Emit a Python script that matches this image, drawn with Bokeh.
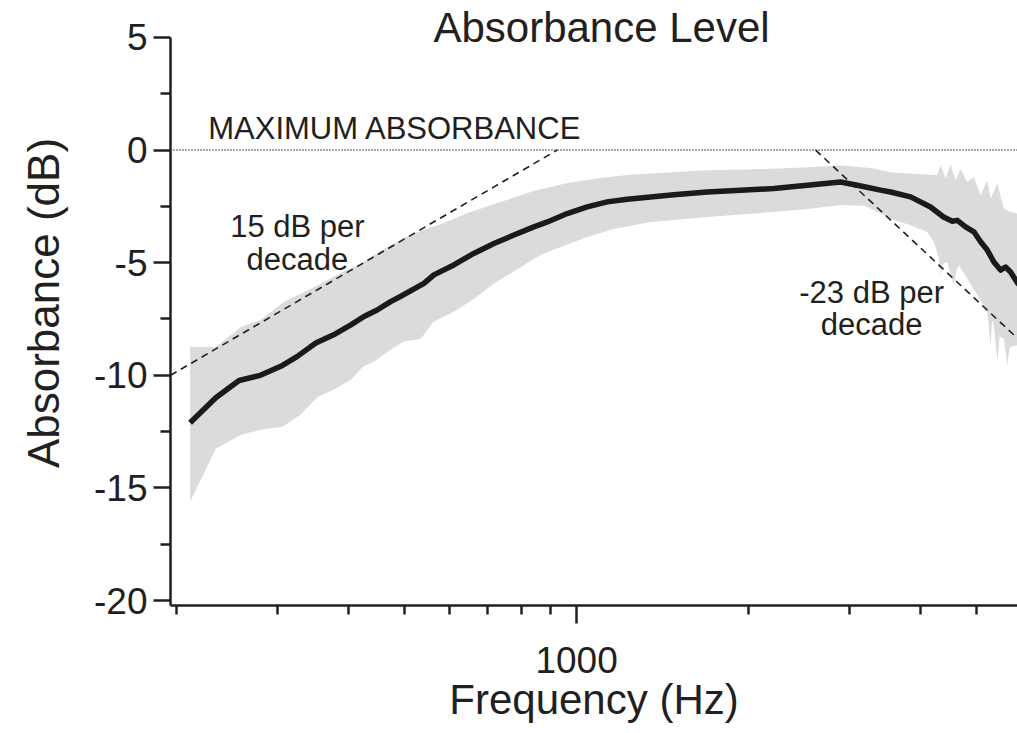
from bokeh.plotting import figure
from bokeh.models import Range1d, FixedTicker, PrintfTickFormatter, Label, Span
from bokeh.embed import file_html
from bokeh.resources import INLINE

# ---------------- data ----------------
mean_freq = [211, 234, 257, 280, 304, 325, 350, 376, 403, 425, 448, 473, 492, 541,
             563, 610, 661, 717, 777, 842, 889, 963, 1044, 1131, 1226, 1347, 1479,
             1692, 1935, 2213, 2531, 2894, 3095, 3400, 3540, 3837, 4157, 4381, 4538,
             4630, 4787, 4950, 5086, 5224, 5364, 5511, 5623, 5738, 5902, 6000]
mean_db = [-12.11, -11.0, -10.23, -10.0, -9.6, -9.16, -8.57, -8.2, -7.76, -7.39, -7.1,
           -6.73, -6.5, -5.92, -5.54, -5.1, -4.59, -4.15, -3.77, -3.41, -3.19, -2.82,
           -2.52, -2.3, -2.18, -2.08, -1.98, -1.86, -1.78, -1.71, -1.56, -1.42, -1.56,
           -1.78, -1.86, -2.08, -2.53, -2.97, -3.16, -3.12, -3.41, -3.63, -4.07, -4.44,
           -4.97, -5.33, -5.19, -5.41, -5.9, -6.1]

upper_freq = [211, 234, 259, 280, 308, 343, 382, 424, 460, 498, 534, 586, 645, 736,
              841, 964, 1101, 1228, 1347, 1694, 2210, 2596, 2894, 3266, 3540, 4272,
              4328, 4417, 4506, 4598, 4692, 4820, 4950, 5086, 5224, 5295, 5439, 5585,
              5738, 5902, 6000]
upper_db = [-8.74, -8.74, -7.85, -7.54, -6.74, -6.16, -5.54, -4.97, -4.39, -3.90, -3.59,
            -3.24, -2.79, -2.31, -1.82, -1.46, -1.24, -1.11, -1.04, -0.90, -0.83, -0.75,
            -0.68, -0.80, -0.98, -1.12, -0.65, -1.27, -0.65, -1.33, -0.85, -1.42, -1.20,
            -2.01, -1.35, -2.16, -1.50, -2.60, -2.75, -2.82, -2.85]

lower_freq = [211, 234, 259, 280, 306, 329, 353, 376, 403, 423, 442, 473, 498, 534,
              562, 610, 661, 716, 789, 865, 938, 1045, 1161, 1347, 1478, 1694, 2210,
              2534, 2894, 3201, 3540, 3837, 4104, 4215, 4300, 4328, 4364, 4447, 4566,
              4616, 4659, 4820, 5018, 5224, 5295, 5327, 5364, 5439, 5489, 5585, 5661,
              5715, 5902, 6000]
lower_db = [-15.61, -13.26, -12.64, -12.42, -12.28, -11.75, -10.95, -10.64, -10.20,
            -9.62, -9.40, -8.87, -8.51, -8.38, -7.63, -7.18, -6.61, -5.94, -5.28, -4.66,
            -4.30, -3.86, -3.50, -3.19, -3.10, -2.97, -2.75, -2.62, -2.44, -2.48, -3.05,
            -3.34, -3.64, -4.08, -4.82, -5.56, -5.06, -4.97, -6.00, -5.32, -5.11, -5.71,
            -6.44, -7.18, -8.66, -7.54, -7.77, -9.40, -8.29, -8.37, -9.55, -8.74, -8.66,
            -8.70]

slope_up_freq = [195, 925]
slope_up_db = [-10.0, 0.0]
slope_down_freq = [2617, 5810]
slope_down_db = [0.0, -8.2]

y_major = [-20, -15, -10, -5, 0, 5]
y_minor = [-17.5, -12.5, -7.5, -2.5, 2.5]
x_major = [1000]
x_minor = [200, 300, 400, 500, 600, 700, 800, 900, 2000, 3000, 4000, 5000]

FONT = "Liberation Sans"
INK = "#231f20"

p = figure(width=1017, height=733, x_axis_type="log",
           x_range=Range1d(195, 5900), y_range=Range1d(-20.22, 6.64),
           output_backend="svg", toolbar_location=None,
           min_border_left=170, min_border_right=0,
           min_border_top=0, min_border_bottom=128)
p.outline_line_color = None
p.grid.visible = False
p.background_fill_color = "white"
p.border_fill_color = "white"

# shaded band
band_x = upper_freq + lower_freq[::-1]
band_y = upper_db + lower_db[::-1]
p.patch(band_x, band_y, fill_color="#dadbdd", line_color=None)

# mean curve
p.line(mean_freq, mean_db, line_color="#1a1a1a", line_width=5.5, line_join="round")

# slope lines
p.line(slope_up_freq, slope_up_db, line_color=INK, line_width=1.6, line_dash="7 5")
p.line(slope_down_freq, slope_down_db, line_color=INK, line_width=1.6, line_dash="7 5")

# maximum line
p.add_layout(Span(location=0, dimension="width", line_color=INK, line_width=1.5,
                  line_dash="1 2"))

# axes
xa = p.xaxis[0]
xa.ticker = FixedTicker(ticks=x_major, minor_ticks=x_minor)
xa.formatter = PrintfTickFormatter(format="%d")
xa.axis_label = "Frequency (Hz)"
ya = p.yaxis[0]
ya.ticker = FixedTicker(ticks=y_major, minor_ticks=y_minor)
ya.formatter = PrintfTickFormatter(format="%d")
ya.bounds = (-20.22, 5)
ya.axis_label = "Absorbance (dB)"

for ax in (xa, ya):
    ax.axis_line_width = 2.5
    ax.axis_line_color = INK
    ax.major_tick_line_width = 2.5
    ax.minor_tick_line_width = 2.5
    ax.major_tick_line_color = INK
    ax.minor_tick_line_color = INK
    ax.major_tick_in = 0
    ax.minor_tick_in = 0
    ax.major_label_text_font = FONT
    ax.major_label_text_color = INK
    ax.major_label_text_font_size = "37px"
    ax.axis_label_text_font = FONT
    ax.axis_label_text_color = INK
    ax.axis_label_text_font_style = "normal"

xa.major_tick_out = 18
xa.minor_tick_out = 9
xa.major_label_standoff = 23
xa.axis_label_text_font_size = "42px"
xa.axis_label_standoff = 0

ya.major_tick_out = 17
ya.minor_tick_out = 10
ya.major_label_standoff = 6
ya.axis_label_text_font_size = "44px"
ya.axis_label_standoff = 23

# texts
def lab(x, y, t, size, align="left"):
    p.add_layout(Label(x=x, y=y, text=t, text_font=FONT, text_font_size=size,
                       text_color=INK, text_align=align,
                       text_baseline="middle"))

lab(562, 5.45, "Absorbance Level", "42px")
lab(227, 0.96, "MAXIMUM ABSORBANCE", "31px")
lab(325, -3.38, "15 dB per", "31px", "center")
lab(325, -4.84, "decade", "31px", "center")
lab(3280, -6.34, "-23 dB per", "31px", "center")
lab(3280, -7.74, "decade", "31px", "center")

open("out.html", "w").write(file_html(p, INLINE))
